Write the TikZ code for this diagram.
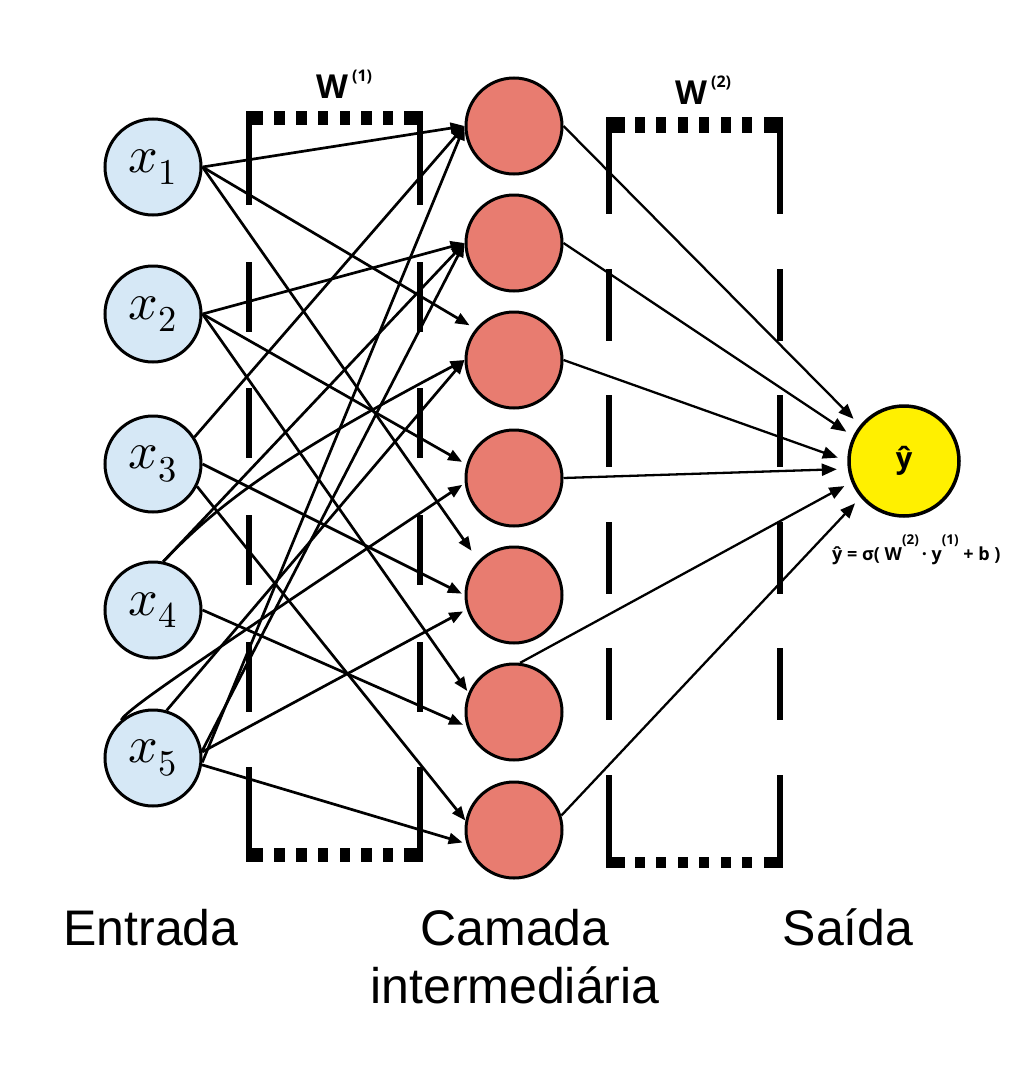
\documentclass[tikz,border=0pt]{standalone}
\usepackage{fontspec}
\usepackage{unicode-math}
\setmainfont{Liberation Sans}
\newfontfamily\osfont{Open Sans}
\usetikzlibrary{arrows.meta}
\definecolor{inblue}{RGB}{214,232,246}
\definecolor{hidred}{RGB}{232,124,112}
\definecolor{outyel}{RGB}{255,240,0}
\tikzset{
  inp/.style={circle, draw=black, line width=3pt, fill=inblue, minimum size=96pt, inner sep=0pt,
    font=\fontsize{52}{52}\selectfont},
  hid/.style={circle, draw=black, line width=3pt, fill=hidred, minimum size=96pt, inner sep=0pt},
  outn/.style={circle, draw=black, line width=3.5pt, fill=outyel, minimum size=110pt, inner sep=0pt,
    font=\osfont\bfseries\fontsize{29}{29}\selectfont},
  conn/.style={line width=2.7pt, -{Triangle[length=14pt,width=11pt]}},
  conn2/.style={line width=2.3pt, -{Triangle[length=15pt,width=12pt]}},
  lbl/.style={font=\fontsize{50}{50}\selectfont, anchor=base, inner sep=0pt},
  wlbl/.style={font=\osfont\bfseries\fontsize{33}{33}\selectfont, anchor=base west, inner sep=0pt},
  fml/.style={font=\osfont\bfseries\fontsize{18}{18}\selectfont, anchor=base west, inner sep=0pt},
}
\newcommand{\supbox}[1]{\raisebox{17pt}{\fontsize{16}{16}\selectfont #1}}
\newcommand{\fsup}[1]{\raisebox{16pt}{\fontsize{13.5}{13.5}\selectfont #1}}
\begin{document}
\begin{tikzpicture}[x=1pt,y=-1pt]
\useasboundingbox (0,0) rectangle (1024,1076);
\fill[white] (0,0) rectangle (1024,1076);

% brackets W1
\foreach \a/\b in {111/205,262/332,388/458,515/585,642/712,767/862}{
  \fill (245.7,\a) rectangle (251.7,\b);
  \fill (416.5,\a) rectangle (423,\b);
}
\foreach \a/\b in {245.7/263.3,274/285,296/307,318/328,340/350,361/372,383/393,404/423}{
  \fill (\a,111) rectangle (\b,125);
  \fill (\a,848) rectangle (\b,862);
}
% brackets W2
\foreach \a/\b in {117/214,269/341,395/467,522/594,648/720,775/868}{
  \fill (606,\a) rectangle (612,\b);
  \fill (777,\a) rectangle (783,\b);
}
\foreach \a/\b in {606/625,635/645,656/666,678/688,699/709,721/731,742/752,764/783}{
  \fill (\a,117) rectangle (\b,133);
  \fill (\a,857) rectangle (\b,868);
}

% nodes
\node[inp] (x1) at (153,167) {$x_1$};
\node[inp] (x2) at (153,314) {$x_2$};
\node[inp] (x3) at (153,464) {$x_3$};
\node[inp] (x4) at (153,610) {$x_4$};
\node[inp] (x5) at (153,758) {$x_5$};

\node[hid] (h1) at (514,126) {};
\node[hid] (h2) at (514,243) {};
\node[hid] (h3) at (514,360) {};
\node[hid] (h4) at (514,478) {};
\node[hid] (h5) at (514,595) {};
\node[hid] (h6) at (514,712) {};
\node[hid] (h7) at (514,830) {};

\node[outn] (out) at (904,461) {ŷ};

% input -> hidden
\draw[conn] (x1.east) -- (h1.west);
\draw[conn, shorten >=7pt] (x1.east) -- (h3.141);
\draw[conn, shorten >=12pt] (x1.east) -- (h5.136);
\draw[conn] (x2.east) -- (h2.west);
\draw[conn, shorten >=5pt] (x2.east) -- (h4.164);
\draw[conn, shorten >=2pt] (x2.east) -- (h6.157);
\draw[conn] (x3.33) -- (h1.west);
\draw[conn, shorten >=3pt] (x3.east) -- (h5.west);
\draw[conn] (x3.-27) -- (h7.169);
\draw[conn] (x4.78) -- (h2.west);
\draw[conn] (x4.78) .. controls (225,496) and (300,447) .. (h3.west);
\draw[conn, shorten >=4pt] (x4.east) -- (h6.197);
\draw[conn, shorten >=3pt] (x5.130) .. controls (128,708) and (200,660) .. (h4.186);
\draw[conn] (x5.74) -- (h3.west);
\draw[conn] (x5.-5) -- (h1.west);
\draw[conn] (x5.8) -- (h2.west);
\draw[conn, shorten >=4pt] (x5.7) -- (h5.197);
\draw[conn, shorten >=4pt] (x5.-8) -- (h7.196);

% hidden -> output
\draw[conn2, shorten >=9pt] (h1.east) -- (out.141);
\draw[conn2, shorten >=8pt] (h2.east) -- (out.154);
\draw[conn2, shorten >=10pt] (h3.east) -- (out.180);
\draw[conn2, shorten >=11pt] (h4.east) -- (out.188);
\draw[conn2, shorten >=8pt] (h6.83) -- (out.202);
\draw[conn2, shorten >=8pt] (h7.17) -- (out.220);

% labels
\node[wlbl] (w1) at (316,98) {W\hspace{4pt}\supbox{(1)}};
\node[wlbl] (w2) at (675,104) {W\hspace{4pt}\supbox{(2)}};
\node[fml] (f) at (832,560) {ŷ = σ( W\fsup{(2)}\,· y\fsup{(1)} + b )};

\node[lbl] (lin) at (151,945) {Entrada};
\node[lbl] (lcam) at (515,945) {Camada};
\node[lbl] (lint) at (515,1003) {intermediária};
\node[lbl] (lsai) at (848,945) {Saída};
\end{tikzpicture}
\end{document}
